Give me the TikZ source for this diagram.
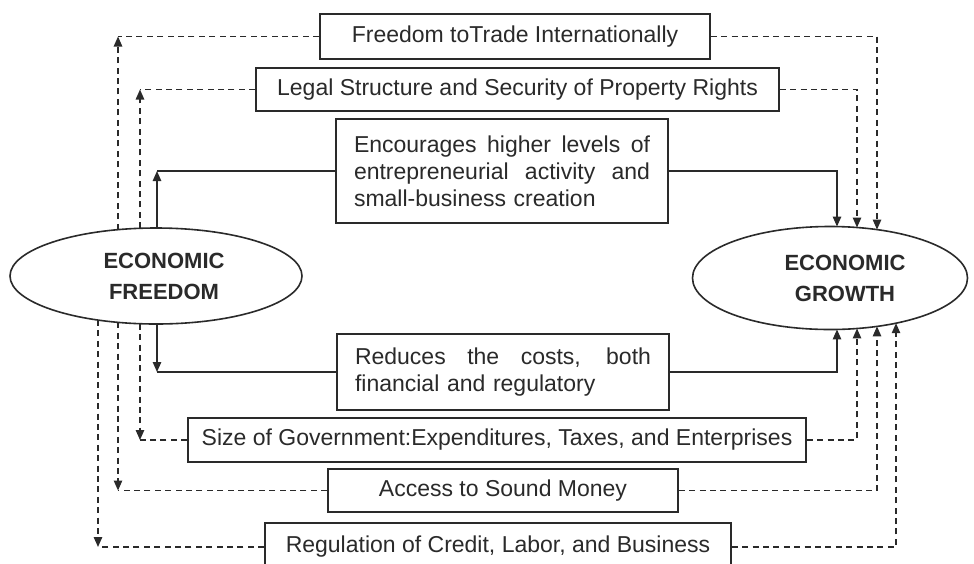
\documentclass[tikz,border=0pt]{standalone}
\usepackage{fontspec}
\setmainfont{Liberation Sans}
\usepackage{xcolor}
\usetikzlibrary{arrows.meta,shapes.geometric,intersections}
\definecolor{ink}{HTML}{2A2A2A}
\newlength{\spreadwd}
\setlength{\spreadwd}{148pt}
% one line of a justified box, spread to the full text width
\newcommand{\spread}[1]{{\spaceskip=0pt\xspaceskip=0pt\makebox[\spreadwd][s]{#1}}}

\begin{document}
\begin{tikzpicture}[
  x=0.5pt,y=-0.5pt,
  every node/.style={text=ink},
  factor/.style={draw=ink,line width=0.8pt,inner sep=0pt,
                 font=\fontsize{11.5}{13.5}\selectfont},
  effect/.style={factor,align=left,text width=\spreadwd,inner xsep=9pt},
  pole/.style={ellipse,draw=ink,line width=0.8pt,inner sep=0pt,align=center,
               font=\fontsize{11}{15.5}\selectfont\bfseries},
  plain/.style={draw=ink,line width=0.75pt},
  dashln/.style={plain,dash pattern=on 3pt off 2.2pt},
  solidarr/.style={plain,-{Triangle[length=5pt,width=4.2pt]}},
  dasharr/.style={dashln,-{Triangle[length=5pt,width=4.2pt]}}
]
\fill[white] (0,0) rectangle (974,563);
\useasboundingbox (0,0) rectangle (974,563);

% the two poles
\node[pole,minimum width=146pt,minimum height=48pt,name path global=freedomrim]
  (freedom) at (156,276) {\hspace*{8pt}ECONOMIC\\\hspace*{8pt}FREEDOM};
\node[pole,minimum width=137.5pt,minimum height=51.5pt,name path global=growthrim]
  (growth) at (830,278) {\hspace*{15pt}ECONOMIC\\\hspace*{15pt}GROWTH};

% factor boxes, top to bottom
\node[factor,minimum width=195pt,minimum height=22.5pt] (trade) at (515,36.5)
  {Freedom toTrade Internationally};
\node[factor,minimum width=261.5pt,minimum height=21.5pt] (legal) at (517.5,89.5)
  {Legal Structure and Security of Property Rights};
\node[effect,minimum height=52pt] (encourage) at (502,171)
  {\spread{Encourages higher levels of}\\\spread{entrepreneurial activity and}\\small-business creation};
\node[effect,minimum height=38pt] (reduce) at (503,372)
  {\spread{Reduces the costs, both}\\financial and regulatory};
\node[factor,minimum width=309pt,minimum height=22pt] (govsize) at (497,440)
  {Size of Government:Expenditures, Taxes, and Enterprises};
\node[factor,minimum width=175pt,minimum height=21.5pt] (money) at (503,490.5)
  {Access to Sound Money};
\node[factor,minimum width=233pt,minimum height=24pt] (regulate) at (498,547)
  {Regulation of Credit, Labor, and Business};

% vertical lanes and where they meet the ellipses
\foreach \lane/\x in {la/98,lb/118,lc/140,ld/157}{
  \path[name path global=\lane] (\x,0) -- (\x,563);
  \path[name intersections={of=freedomrim and \lane,sort by=\lane,by={\lane-top,\lane-bot}}];
}
\foreach \lane/\x in {ra/837,rb/857,rc/877,rd/896}{
  \path[name path global=\lane] (\x,0) -- (\x,563);
  \path[name intersections={of=growthrim and \lane,sort by=\lane,by={\lane-top,\lane-bot}}];
}

% upper links
\draw[dasharr] (lb-top) -- (trade.west -| lb-top);
\draw[dashln] (trade.west) -- (trade.west -| lb-top);
\draw[dasharr] (trade.east) -| (rc-top);

\draw[dasharr] (lc-top) -- (legal.west -| lc-top);
\draw[dashln] (legal.west) -- (legal.west -| lc-top);
\draw[dasharr] (legal.east) -| (rb-top);

\draw[solidarr] (ld-top) -- (encourage.west -| ld-top);
\draw[plain] (encourage.west) -- (encourage.west -| ld-top);
\draw[solidarr] (encourage.east) -| (ra-top);

% lower links
\draw[solidarr] (ld-bot) -- (reduce.west -| ld-bot);
\draw[plain] (reduce.west) -- (reduce.west -| ld-bot);
\draw[solidarr] (reduce.east) -| (ra-bot);

\draw[dasharr] (lc-bot) -- (govsize.west -| lc-bot);
\draw[dashln] (govsize.west) -- (govsize.west -| lc-bot);
\draw[dasharr] (govsize.east) -| (rb-bot);

\draw[dasharr] (lb-bot) -- (money.west -| lb-bot);
\draw[dashln] (money.west) -- (money.west -| lb-bot);
\draw[dasharr] (money.east) -| (rc-bot);

\draw[dasharr] (la-bot) -- (regulate.west -| la-bot);
\draw[dashln] (regulate.west) -- (regulate.west -| la-bot);
\draw[dasharr] (regulate.east) -| (rd-bot);
\end{tikzpicture}
\end{document}
